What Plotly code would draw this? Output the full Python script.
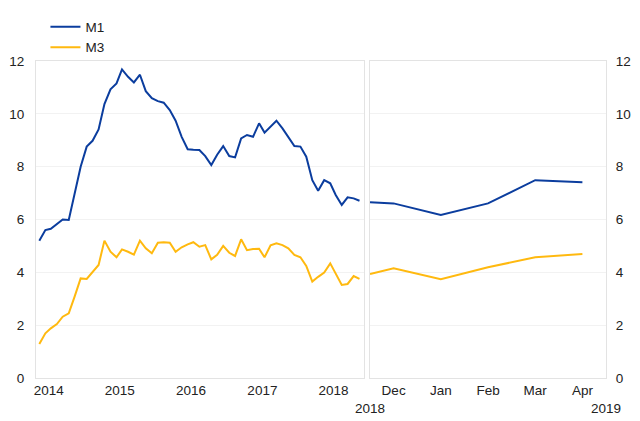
import pandas as pd
import plotly.graph_objects as go

# ---- data ----
left_dates = pd.date_range("2014-01-01", periods=55, freq="MS")
m1_left = [5.20, 5.60, 5.65, 5.83, 6.00, 5.98, 6.99, 8.00, 8.76, 8.98,
           9.41, 10.37, 10.93, 11.15, 11.68, 11.40, 11.19, 11.48, 10.86, 10.59,
           10.48, 10.42, 10.14, 9.74, 9.13, 8.66, 8.64, 8.63, 8.40, 8.06,
           8.45, 8.78, 8.40, 8.35, 9.07, 9.20, 9.13, 9.64, 9.29, 9.54,
           9.74, 9.45, 9.13, 8.78, 8.76, 8.38, 7.49, 7.09, 7.49, 7.37,
           6.93, 6.55, 6.84, 6.80, 6.71]
m3_left = [1.29, 1.69, 1.88, 2.04, 2.32, 2.45, 3.08, 3.77, 3.75, 4.02,
           4.28, 5.20, 4.78, 4.57, 4.87, 4.78, 4.67, 5.20, 4.91, 4.72,
           5.12, 5.14, 5.12, 4.78, 4.95, 5.06, 5.14, 4.97, 5.03, 4.49,
           4.66, 5.00, 4.74, 4.62, 5.25, 4.84, 4.88, 4.89, 4.57, 5.02,
           5.10, 5.03, 4.91, 4.66, 4.57, 4.24, 3.65, 3.83, 3.99, 4.34,
           3.94, 3.52, 3.56, 3.86, 3.75]

right_x = [-0.5, 0, 1, 2, 3, 4]
right_labels = ["Dec", "Jan", "Feb", "Mar", "Apr"]
m1_right = [6.65, 6.61, 6.17, 6.61, 7.49, 7.41]
m3_right = [3.94, 4.15, 3.74, 4.19, 4.57, 4.69]

year_ticks = ["2014-02-18", "2015-02-18", "2016-02-18", "2017-02-18", "2018-02-18"]
year_labels = ["2014", "2015", "2016", "2017", "2018"]

BLUE = "#0B3D9E"
YELLOW = "#FFB90F"
FONT = "Liberation Sans, Arial, sans-serif"
FS = 13.5

fig = go.Figure()
fig.add_trace(go.Scatter(x=left_dates, y=m1_left, mode="lines", name="M1",
                         line=dict(color=BLUE, width=2), xaxis="x", yaxis="y",
                         legendgroup="m1"))
fig.add_trace(go.Scatter(x=left_dates, y=m3_left, mode="lines", name="M3",
                         line=dict(color=YELLOW, width=2), xaxis="x", yaxis="y",
                         legendgroup="m3"))
fig.add_trace(go.Scatter(x=right_x, y=m1_right, mode="lines", name="M1",
                         line=dict(color=BLUE, width=2), xaxis="x2", yaxis="y2",
                         legendgroup="m1", showlegend=False))
fig.add_trace(go.Scatter(x=right_x, y=m3_right, mode="lines", name="M3",
                         line=dict(color=YELLOW, width=2), xaxis="x2", yaxis="y2",
                         legendgroup="m3", showlegend=False))

axis_line = dict(showline=True, linecolor="#e3e3e3", linewidth=1, mirror=True)

fig.update_layout(
    width=640, height=421,
    margin=dict(l=36, r=34, t=61, b=43, autoexpand=False),
    paper_bgcolor="white", plot_bgcolor="white",
    font=dict(family=FONT, size=FS, color="#222222"),
    showlegend=True,
    legend=dict(xref="container", yref="container", x=0.071, y=0.973,
                xanchor="left", yanchor="top",
                bgcolor="rgba(0,0,0,0)", font=dict(size=FS, family=FONT),
                tracegroupgap=0, itemwidth=30),
    xaxis=dict(domain=[0, 0.5754], type="date",
               range=["2013-12-15", "2018-07-24"],
               tickmode="array", tickvals=year_ticks, ticktext=year_labels,
               showgrid=False, zeroline=False, ticks="", **axis_line),
    yaxis=dict(range=[0, 12], dtick=2, showgrid=True, gridcolor="#f2f2f2",
               zeroline=False, ticks="", ticklabelstandoff=8, anchor="x",
               **axis_line),
    xaxis2=dict(domain=[0.586, 1], range=[-0.5, 4.5],
                tickmode="array", tickvals=[0, 1, 2, 3, 4], ticktext=right_labels,
                showgrid=False, zeroline=False, ticks="", anchor="y2",
                **axis_line),
    yaxis2=dict(range=[0, 12], dtick=2, showgrid=True, gridcolor="#f2f2f2",
                zeroline=False, ticks="", side="right", anchor="x2",
                ticklabelstandoff=6, **axis_line),
    annotations=[
        dict(text="2018", xref="x2", x=-0.5, yref="paper", y=-0.066,
             showarrow=False, xanchor="center", yanchor="top",
             font=dict(size=FS, family=FONT, color="#222222")),
        dict(text="2019", xref="x2", x=4.5, yref="paper", y=-0.066,
             showarrow=False, xanchor="center", yanchor="top",
             font=dict(size=FS, family=FONT, color="#222222")),
    ],
)

fig.write_html("out.html",
               config={"displayModeBar": False},
               post_script="document.body.style.margin='0';document.body.style.overflow='hidden';")
